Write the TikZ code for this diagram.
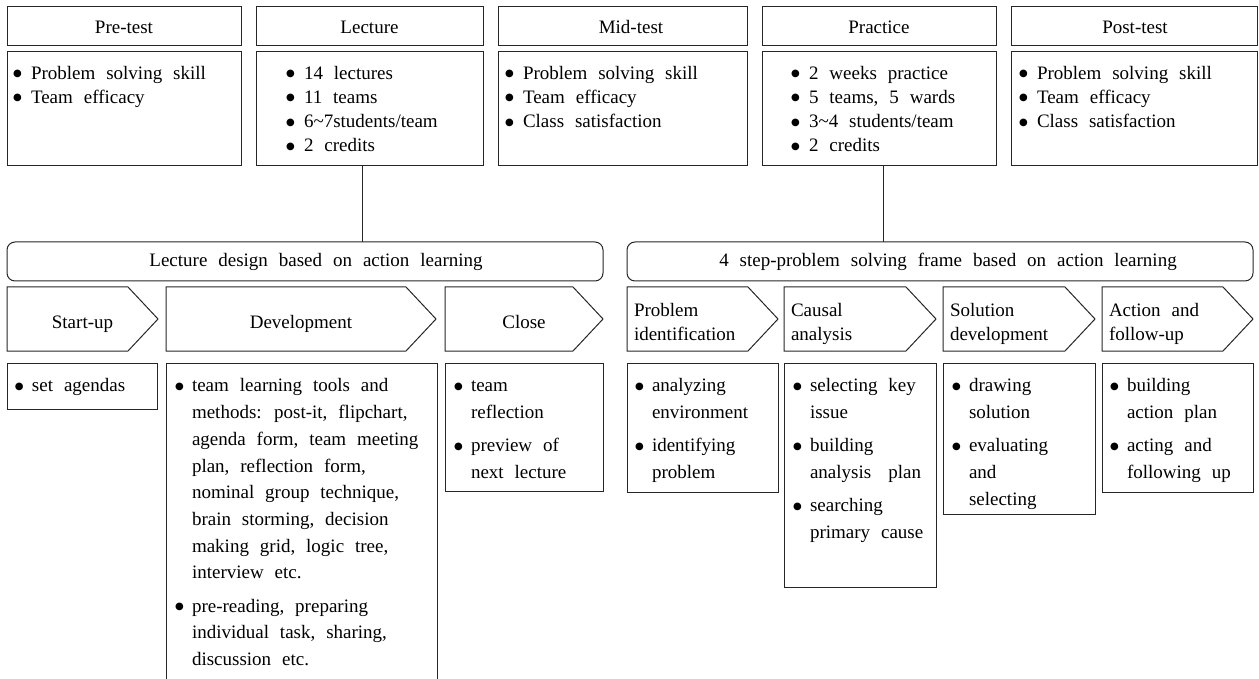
\documentclass[tikz,border=0pt]{standalone}
\usepackage{fontspec}
\setmainfont{Liberation Serif}[WordSpace=2.3]
\newfontfamily\djv{DejaVu Sans}
\newcommand\bdot{\raisebox{2.6pt}{\djv\fontsize{10}{10}\selectfont ●}}
\newcommand\bt{\makebox[18pt][l]{\bdot}}
\newcommand\bb{\makebox[17pt][l]{\bdot}}
\newcommand\ib{\hspace*{17pt}}
\newcommand\chevron[2]{\draw[ln] (#1,287) -- (#2-30,287) -- (#2,319) -- (#2-30,351) -- (#1,351) -- cycle;}
\tikzset{
  ln/.style={draw=black!85, line width=1pt},
  box/.style={ln, anchor=north west, inner sep=0pt, outer sep=0pt},
  rbox/.style={box, rounded corners=8pt},
  tx/.style={inner sep=0pt, outer sep=0pt, text=black},
  ttl/.style={tx, anchor=base, font=\fontsize{19}{24}\selectfont},
  topbody/.style={tx, anchor=north west, align=left, font=\fontsize{19}{24.3}\selectfont},
  botbody/.style={tx, anchor=north west, align=left, font=\fontsize{19}{26.7}\selectfont},
  chv/.style={tx, anchor=north west, align=left, font=\fontsize{19}{24}\selectfont},
}
\begin{document}
\begin{tikzpicture}[x=1pt,y=-1pt]
\useasboundingbox (0,0) rectangle (1259,679);
% header boxes
\node[box, minimum width=234pt, minimum height=39pt] (h1) at (7,7) {};
\node[box, minimum width=227pt, minimum height=39pt] (h2) at (256,7) {};
\node[box, minimum width=249pt, minimum height=39pt] (h3) at (498,7) {};
\node[box, minimum width=234pt, minimum height=39pt] (h4) at (762,7) {};
\node[box, minimum width=246pt, minimum height=39pt] (h5) at (1011,7) {};
\node[ttl] (ht1) at (124,34) {Pre-test};
\node[ttl] (ht2) at (369.5,34) {Lecture};
\node[ttl] (ht3) at (631,34) {Mid-test};
\node[ttl] (ht4) at (879,34) {Practice};
\node[ttl] (ht5) at (1135,34) {Post-test};
% body boxes
\node[box, minimum width=234pt, minimum height=114pt] (b1) at (7,52) {};
\node[box, minimum width=227pt, minimum height=114pt] (b2) at (256,52) {};
\node[box, minimum width=249pt, minimum height=114pt] (b3) at (498,52) {};
\node[box, minimum width=234pt, minimum height=114pt] (b4) at (762,52) {};
\node[box, minimum width=246pt, minimum height=114pt] (b5) at (1011,52) {};
\node[topbody] (bt1) at (13,62) {\strut\bt Problem solving skill\\\bt Team efficacy};
\node[topbody] (bt2) at (286,62) {\strut\bt 14 lectures\\\bt 11 teams\\\bt 6\textasciitilde7students/team\\\bt 2 credits};
\node[topbody] (bt3) at (505,62) {\strut\bt Problem solving skill\\\bt Team efficacy\\\bt Class satisfaction};
\node[topbody] (bt4) at (791,62) {\strut\bt 2 weeks practice\\\bt 5 teams, 5 wards\\\bt 3\textasciitilde4 students/team\\\bt 2 credits};
\node[topbody] (bt5) at (1019,62) {\strut\bt Problem solving skill\\\bt Team efficacy\\\bt Class satisfaction};
% rounded frames
\node[rbox, minimum width=596pt, minimum height=39pt] (ld) at (7,242) {};
\node[rbox, minimum width=626pt, minimum height=39pt] (fs) at (627,242) {};
\node[ttl] (ldt) at (316,267) {Lecture design based on action learning};
\node[ttl] (fst) at (948,267) {4 step-problem solving frame based on action learning};
% connectors
\coordinate (c1) at (362,0);
\coordinate (c2) at (883,0);
\draw[ln] (b2.south -| c1) -- (ld.north -| c1);
\draw[ln] (b4.south -| c2) -- (fs.north -| c2);
% chevrons
\chevron{7}{158}
\chevron{166}{436}
\chevron{445}{603}
\chevron{627}{778}
\chevron{784}{936}
\chevron{943}{1095}
\chevron{1102}{1253}
\node[ttl] (s1) at (82.5,328) {Start-up};
\node[ttl] (s2) at (301,328) {Development};
\node[ttl] (s3) at (524,328) {Close};
\node[chv] (p1) at (634,299.2) {\strut Problem\\identification};
\node[chv] (p2) at (791,299.2) {\strut Causal\\analysis};
\node[chv] (p3) at (950,299.2) {\strut Solution\\development};
\node[chv] (p4) at (1109,299.2) {\strut Action and\\follow-up};
% bottom boxes
\node[box, minimum width=150pt, minimum height=46pt] (sb) at (7,363) {};
\draw[ln] (166,681) -- (166,363) -- (437,363) -- (437,681);
\node[box, minimum width=158pt, minimum height=128pt] (cb) at (445,363) {};
\node[box, minimum width=151pt, minimum height=129pt] (pb) at (627,363) {};
\node[box, minimum width=152pt, minimum height=224pt] (kb) at (784,363) {};
\node[box, minimum width=152pt, minimum height=151pt] (sob) at (943,363) {};
\node[box, minimum width=151pt, minimum height=129pt] (ab) at (1102,363) {};
\node[botbody] (sbt) at (15,373.3) {\strut\bb set agendas};
\node[botbody] (dbt) at (175,373.3) {\strut\bb team learning tools and\\\ib methods: post-it, flipchart,\\\ib agenda form, team meeting\\\ib plan, reflection form,\\\ib nominal group technique,\\\ib brain storming, decision\\\ib making grid, logic tree,\\\ib interview etc.\\[6.5pt]\bb pre-reading, preparing\\\ib individual task, sharing,\\\ib discussion etc.};
\node[botbody] (cbt) at (454,373.3) {\strut\bb team\\\ib reflection\\[6.5pt]\bb preview of\\\ib next lecture};
\node[botbody] (pbt) at (635,373.3) {\strut\bb analyzing\\\ib environment\\[6.5pt]\bb identifying\\\ib problem};
\node[botbody] (kbt) at (793,373.3) {\strut\bb selecting key\\\ib issue\\[6.5pt]\bb building\\\ib \hbox to 111pt{analysis\hfill plan}\\[6.5pt]\bb searching\\\ib primary cause};
\node[botbody] (sobt) at (952,373.3) {\strut\bb drawing\\\ib solution\\[6.5pt]\bb evaluating\\\ib and\\\ib selecting};
\node[botbody] (abt) at (1110,373.3) {\strut\bb building\\\ib action plan\\[6.5pt]\bb acting and\\\ib following up};
\end{tikzpicture}
\end{document}
